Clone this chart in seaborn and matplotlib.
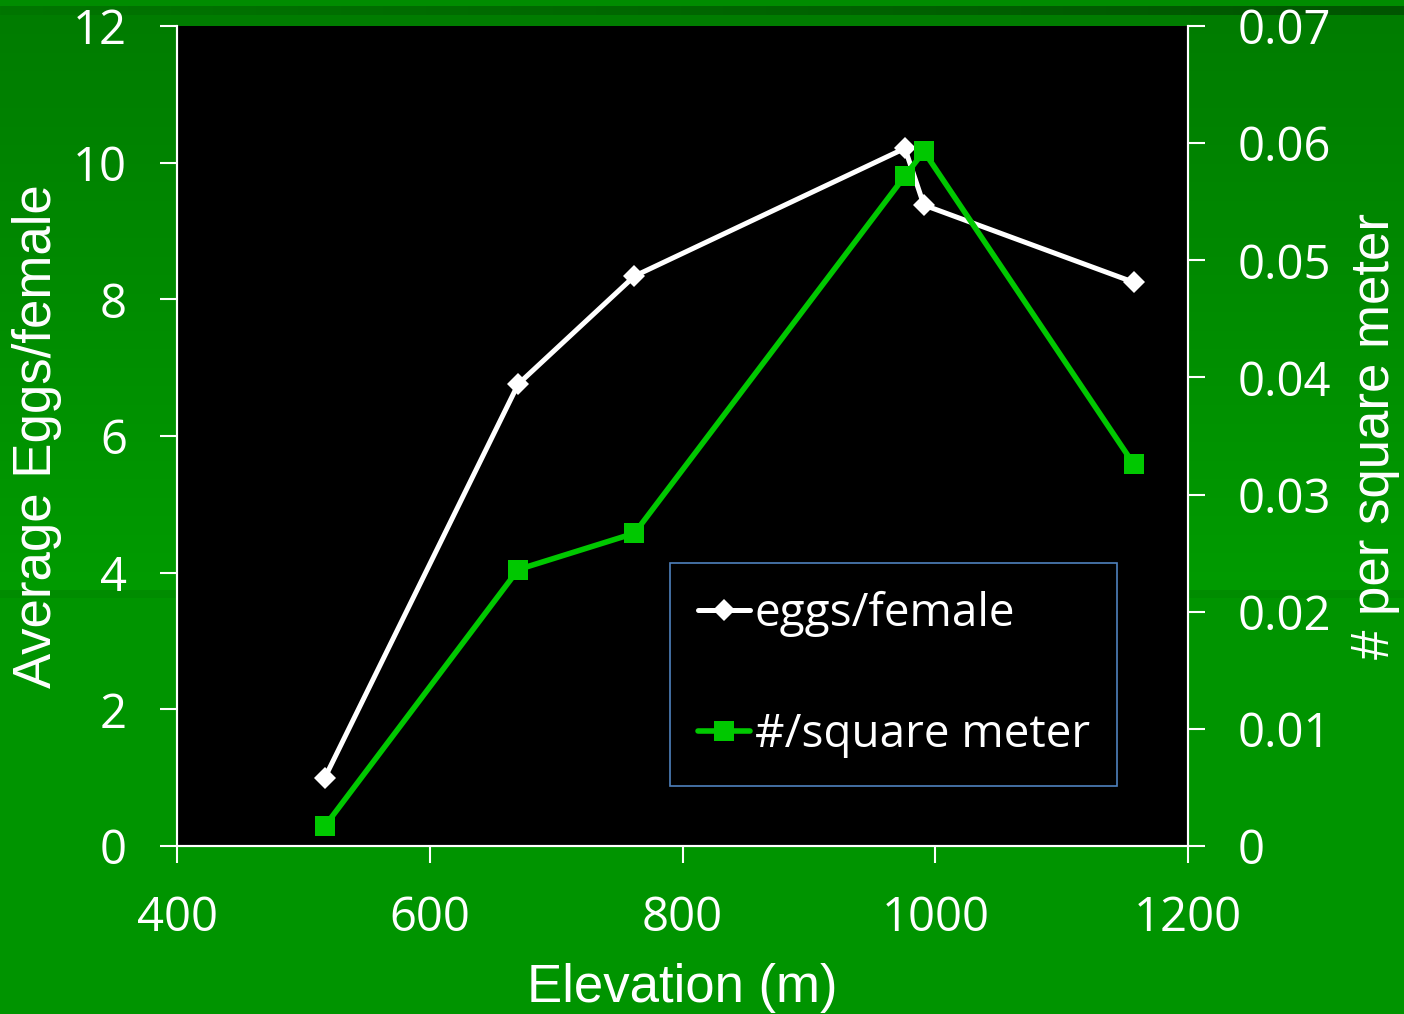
import numpy as np
import pandas as pd
import matplotlib
matplotlib.use("Agg")
import matplotlib.pyplot as plt
import seaborn as sns

# Survey values by elevation
elevation = [517, 670, 762, 976, 991, 1157]
eggs_per_female = [1.0, 6.76, 8.34, 10.21, 9.38, 8.25]
per_square_meter = [0.0017, 0.0236, 0.0267, 0.0572, 0.0593, 0.0326]

x_ticks = [400, 600, 800, 1000, 1200]
left_ticks = [0, 2, 4, 6, 8, 10, 12]
right_ticks = [0, 0.01, 0.02, 0.03, 0.04, 0.05, 0.06, 0.07]
right_tick_labels = ["0", "0.01", "0.02", "0.03", "0.04", "0.05", "0.06", "0.07"]

df = pd.DataFrame({
    "elevation": elevation,
    "eggs": eggs_per_female,
    "density": per_square_meter,
})

sns.set_style("ticks")
plt.rcParams["font.family"] = ["Open Sans", "DejaVu Sans"]

W, H = 1404, 1014
fig = plt.figure(figsize=(W / 100, H / 100), dpi=100)

# Slide-style green backdrop
bg_img = np.zeros((H, W, 3))
rows = np.arange(H)
g = np.full(H, 148.0)
g[:6] = 140
band = (rows >= 15) & (rows < 590)
g[band] = 124 + (rows[band] - 15) / (590 - 15) * (155 - 124)
g[590:598] = 140
bg_img[:, :, 1] = g[:, None] / 255.0
stripe = 118 - np.linspace(0, 1, W) * 33
bg_img[6:15, :, 1] = stripe[None, :] / 255.0
bg = fig.add_axes([0, 0, 1, 1], zorder=-10)
bg.imshow(bg_img, aspect="auto", extent=[0, 1, 0, 1], interpolation="nearest")
bg.axis("off")

left, right = 177 / W, 1188 / W
bottom, top = 1 - 846 / H, 1 - 26 / H
ax = fig.add_axes([left, bottom, right - left, top - bottom])
ax.set_facecolor("black")
ax2 = ax.twinx()

sns.lineplot(data=df, x="elevation", y="eggs", ax=ax, color="white",
             marker="D", markersize=11.5, markeredgewidth=0, linewidth=3.6,
             label="eggs/female", legend=False, sort=False, clip_on=False)
sns.lineplot(data=df, x="elevation", y="density", ax=ax2, color="#00c800",
             marker="s", markersize=14.5, markeredgewidth=0, linewidth=4,
             label="#/square meter", legend=False, sort=False, clip_on=False)

ax.set_xlim(400, 1200)
ax.set_ylim(0, 12)
ax2.set_ylim(0, 0.07)
ax.set_xticks(x_ticks)
ax.set_yticks(left_ticks)
ax2.set_yticks(right_ticks)
ax2.set_yticklabels(right_tick_labels)

for a in (ax, ax2):
    for side in ("left", "right", "bottom"):
        a.spines[side].set_color("white")
        a.spines[side].set_linewidth(1.5)
    a.spines["top"].set_visible(False)
    a.tick_params(colors="white", labelcolor="white", width=1.5, length=12,
                  direction="out", labelsize=34)
ax.tick_params(axis="y", pad=24)
ax.tick_params(axis="x", pad=23)
ax2.tick_params(axis="y", pad=24)

label_font = dict(family=["Liberation Sans", "DejaVu Sans"], size=38, color="white")
ax.set_xlabel("Elevation (m)", **label_font)
ax.set_ylabel("Average Eggs/female", **label_font)
ax2.set_ylabel("# per square meter", **label_font)
ax.xaxis.label.set_va("center")
ax.yaxis.label.set_va("center")
ax2.yaxis.label.set_va("center")
ax2.yaxis.label.set_rotation(90)
ax.xaxis.set_label_coords((682 - 177) / 1011, (846 - 988) / 820)
ax.yaxis.set_label_coords((37 - 177) / 1011, 0.5)
ax2.yaxis.set_label_coords((1375 - 177) / 1011, 0.5)

h1, l1 = ax.get_legend_handles_labels()
h2, l2 = ax2.get_legend_handles_labels()
leg = ax2.legend(h1 + h2, l1 + l2, loc="upper left",
                 bbox_to_anchor=((670 - 177) / 1011, (846 - 563) / 820),
                 frameon=True, facecolor="black", edgecolor="#4f81bd",
                 framealpha=1, fancybox=False, fontsize=33, labelcolor="white",
                 handlelength=1.15, handletextpad=0.1, borderpad=0.6,
                 labelspacing=1.65, borderaxespad=0)
leg.get_frame().set_linewidth(1.2)

fig.savefig("out.png", dpi=100)
